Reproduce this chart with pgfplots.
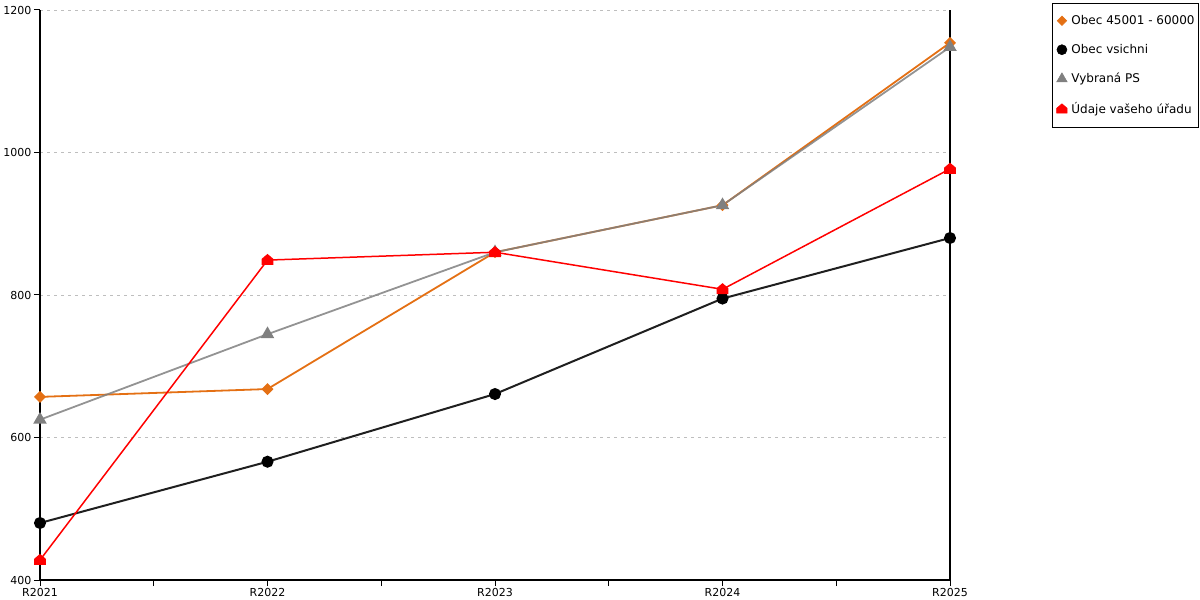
\documentclass[border=0pt]{standalone}
\usepackage{fontspec}
\setmainfont{DejaVu Sans}
\usepackage{pgfplots}
\pgfplotsset{compat=1.18}
\definecolor{cor}{RGB}{228,112,20}
\definecolor{cgr}{RGB}{128,128,128}
\definecolor{cgrid}{RGB}{190,190,190}
\makeatletter
\pgfdeclareplotmark{mydiamond}{%
  \pgfpathmoveto{\pgfqpoint{0pt}{\pgfplotmarksize}}%
  \pgfpathlineto{\pgfqpoint{\pgfplotmarksize}{0pt}}%
  \pgfpathlineto{\pgfqpoint{0pt}{-\pgfplotmarksize}}%
  \pgfpathlineto{\pgfqpoint{-\pgfplotmarksize}{0pt}}%
  \pgfpathclose\pgfusepathqfillstroke}
\pgfdeclareplotmark{house}{%
  \pgfpathmoveto{\pgfqpoint{-\pgfplotmarksize}{-0.8\pgfplotmarksize}}%
  \pgfpathlineto{\pgfqpoint{\pgfplotmarksize}{-0.8\pgfplotmarksize}}%
  \pgfpathlineto{\pgfqpoint{\pgfplotmarksize}{0.15\pgfplotmarksize}}%
  \pgfpathlineto{\pgfqpoint{0pt}{\pgfplotmarksize}}%
  \pgfpathlineto{\pgfqpoint{-\pgfplotmarksize}{0.15\pgfplotmarksize}}%
  \pgfpathclose\pgfusepathqfillstroke}
\makeatother
\begin{document}
\begin{tikzpicture}[x=1pt,y=1pt]
\useasboundingbox (0,0) rectangle (1200,600);
\begin{axis}[
  at={(40pt,20pt)}, anchor=south west,
  scale only axis, width=910pt, height=570pt,
  xmin=0, xmax=4, ymin=400, ymax=1200,
  axis x line*=bottom, axis y line*=left,
  axis line style={line width=1.2pt, -},
  xtick={0,1,2,3,4},
  xticklabels={R2021,R2022,R2023,R2024,R2025},
  minor x tick num=1,
  ytick={400,600,800,1000,1200},
  tick align=outside,
  major tick length=6pt, minor tick length=6pt,
  tick style={black, line width=1pt},
  minor tick style={black, line width=1pt},
  ymajorgrids,
  y grid style={cgrid, dash pattern=on 3pt off 4pt, line width=0.8pt},
  ticklabel style={font=\fontsize{11}{13}\selectfont},
  /pgf/number format/assume math mode=true,
  /pgf/number format/1000 sep={},
  yticklabel style={xshift=1pt},
  xticklabel style={yshift=1pt},
  legend style={at={(1.112,1.0123)}, anchor=north west,
    font=\fontsize{12}{14}\selectfont, draw=black, line width=1pt,
    row sep=14.3pt, inner xsep=2pt, inner ysep=10pt,
    cells={anchor=west}},
  legend cell align=left,
  legend image code/.code={\path (0pt,0pt) (13pt,0pt); \draw[#1, line width=0.6pt] plot coordinates {(6.5pt,0pt)};},
  clip=false,
]
\draw[black, line width=1.2pt] (rel axis cs:1,0) -- (rel axis cs:1,1);
\addplot[cor, line width=1.8pt, mark=mydiamond, mark size=4.7pt, mark options={fill=cor, solid}]
  coordinates {(0,657) (1,668) (2,860) (3,926) (4,1154)};
\addlegendentry{Obec 45001 - 60000}
\addplot[black!88, line width=2pt, mark=*, mark size=5pt, mark options={fill=black, draw=black}]
  coordinates {(0,480) (1,566) (2,661) (3,795) (4,880)};
\addlegendentry{Obec vsichni}
\addplot[cgr, opacity=0.85, line width=1.8pt, mark=triangle*, mark size=6pt, mark options={fill=cgr, draw=cgr, opacity=1}]
  coordinates {(0,625) (1,745) (2,860) (3,926) (4,1148)};
\addlegendentry{Vybraná PS}
\addplot[red, line width=1.5pt, mark=house, mark size=5.2pt, mark options={fill=red, draw=red}]
  coordinates {(0,428) (1,849) (2,860) (3,808) (4,977)};
\addlegendentry{Údaje vašeho úřadu}
\end{axis}
\end{tikzpicture}
\end{document}
